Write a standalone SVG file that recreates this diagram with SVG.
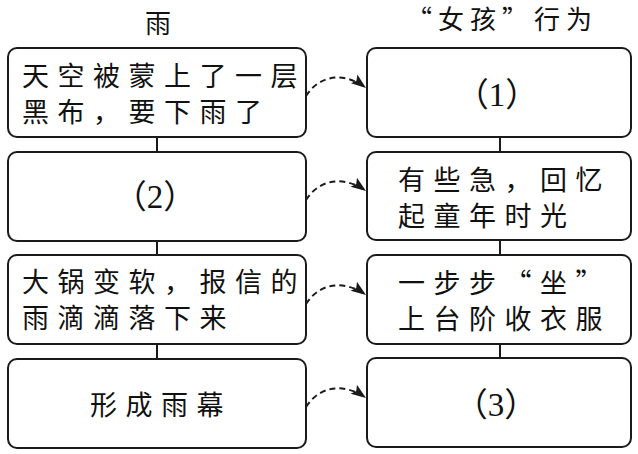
<svg xmlns="http://www.w3.org/2000/svg" width="638" height="454" viewBox="0 0 638 454">
<style>
.box{fill:#fff;stroke:#1a1a1a;stroke-width:2}
.t{font-family:"Noto Sans CJK SC",sans-serif;font-size:27px;letter-spacing:8.5px;fill:#111}
.h{font-family:"Noto Sans CJK SC",sans-serif;font-size:26px;letter-spacing:6px;fill:#111}
.n{font-family:"Liberation Serif","Noto Sans CJK SC",serif;font-size:33px;fill:#111;text-anchor:middle}
.c{fill:none;stroke:#1a1a1a;stroke-width:2}
.d{fill:none;stroke:#1a1a1a;stroke-width:2;stroke-dasharray:6 4}
</style>
<defs>
<marker id="ah" markerUnits="userSpaceOnUse" markerWidth="16" markerHeight="12" refX="15" refY="5.5" orient="auto">
<path d="M0,0 L15,5.5 L0,11 L3,5.5 z" fill="#1a1a1a"/>
</marker>
</defs>
<rect width="638" height="454" fill="#fff"/>
<g id="titles">
<text class="h" x="145" y="33">雨</text>
<text class="h" x="406" y="29">“女孩”行为</text>
</g>
<g id="connectors">
<line class="c" x1="157" y1="137" x2="157" y2="152"/>
<line class="c" x1="157" y1="241" x2="157" y2="255"/>
<line class="c" x1="157" y1="344" x2="157" y2="359"/>
<line class="c" x1="500" y1="137" x2="500" y2="152"/>
<line class="c" x1="500" y1="240" x2="500" y2="255"/>
<line class="c" x1="500" y1="344" x2="500" y2="358"/>
<path class="d" marker-end="url(#ah)" d="M306,96 C320,74 345,72 366,88"/>
<path class="d" marker-end="url(#ah)" d="M306,200 C320,178 345,176 366,191"/>
<path class="d" marker-end="url(#ah)" d="M306,304 C320,282 345,280 366,295"/>
<path class="d" marker-end="url(#ah)" d="M306,407 C320,385 345,383 366,398"/>
</g>
<g id="L1">
<rect class="box" x="8" y="48" width="298" height="89" rx="9"/>
<text class="t" x="22" y="86">天空被蒙上了一层</text>
<text class="t" x="22" y="122">黑布，要下雨了</text>
</g>
<g id="L2">
<rect class="box" x="8" y="152" width="298" height="89" rx="9"/>
<text class="n" x="155" y="208">（2）</text>
</g>
<g id="L3">
<rect class="box" x="8" y="255" width="298" height="89" rx="9"/>
<text class="t" x="22" y="292">大锅变软，报信的</text>
<text class="t" x="22" y="328">雨滴滴落下来</text>
</g>
<g id="L4">
<rect class="box" x="8" y="359" width="298" height="89" rx="9"/>
<text class="t" x="90" y="415">形成雨幕</text>
</g>
<g id="R1">
<rect class="box" x="367" y="48" width="264" height="89" rx="9"/>
<text class="n" x="497" y="106">（1）</text>
</g>
<g id="R2">
<rect class="box" x="367" y="152" width="264" height="88" rx="9"/>
<text class="t" x="398" y="190">有些急，回忆</text>
<text class="t" x="398" y="226">起童年时光</text>
</g>
<g id="R3">
<rect class="box" x="367" y="255" width="264" height="89" rx="9"/>
<text class="t" x="398" y="293">一步步“坐”</text>
<text class="t" x="398" y="329">上台阶收衣服</text>
</g>
<g id="R4">
<rect class="box" x="367" y="358" width="264" height="89" rx="9"/>
<text class="n" x="496" y="416">（3）</text>
</g>
</svg>
